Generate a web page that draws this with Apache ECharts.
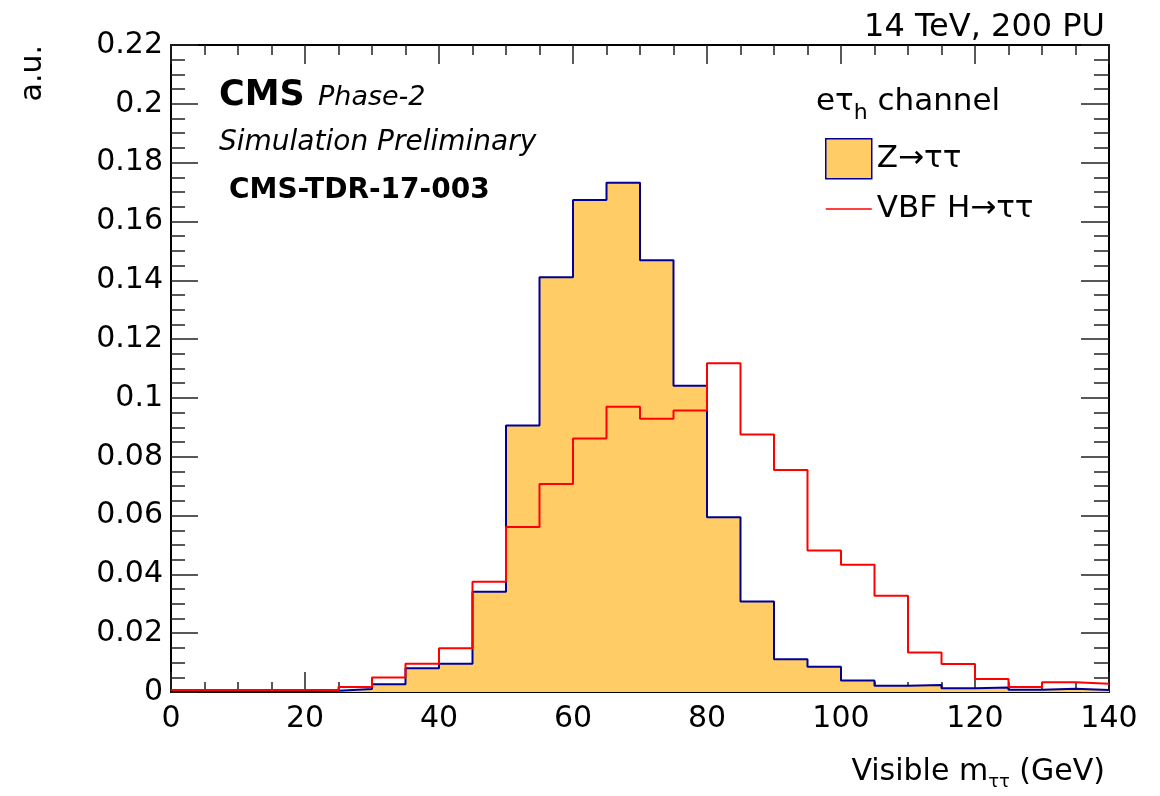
<!DOCTYPE html>
<html>
<head>
<meta charset="utf-8">
<style>
  html, body { margin: 0; padding: 0; background: #fff; }
  #chart { width: 1160px; height: 796px; }
</style>
<script src="https://cdn.jsdelivr.net/npm/echarts@6/dist/echarts.min.js"></script>
</head>
<body>
<div id="chart"></div>
<script>
// Visible di-tau mass, e-tau_h channel; 5 GeV bins from 0 to 140 GeV
const binLowEdges = [0, 5, 10, 15, 20, 25, 30, 35, 40, 45, 50, 55, 60, 65,
                     70, 75, 80, 85, 90, 95, 100, 105, 110, 115, 120, 125, 130, 135];
const binUpperEnd = 140;

// Z -> tau tau (normalised)
const zTauTau = [0.0003, 0.0003, 0.0003, 0.0003, 0.0004, 0.0010, 0.0026, 0.0081,
                 0.0096, 0.0341, 0.0906, 0.1410, 0.1673, 0.1732, 0.1468, 0.1041,
                 0.0594, 0.0308, 0.0111, 0.0086, 0.0039, 0.0021, 0.0024, 0.0013,
                 0.0015, 0.0008, 0.0011, 0.0007];

// VBF H -> tau tau (normalised)
const vbfHTauTau = [0.0007, 0.0007, 0.0007, 0.0007, 0.0007, 0.0017, 0.0049, 0.0096,
                    0.0149, 0.0375, 0.0561, 0.0707, 0.0862, 0.0970, 0.0929, 0.0957,
                    0.1118, 0.0876, 0.0755, 0.0481, 0.0433, 0.0327, 0.0134, 0.0095,
                    0.0044, 0.0017, 0.0033, 0.0028];

const xTickStep = 20;
const yTickStep = 0.02;
const yMax = 0.22;

// Turn bin contents into step points: one point per low edge plus the closing edge
function histPoints(values) {
  const pts = binLowEdges.map((x, i) => [x, values[i]]);
  pts.push([binUpperEnd, values[values.length - 1]]);
  return pts;
}

const FONT = 'DejaVu Sans';
const chart = echarts.init(document.getElementById('chart'), null, { renderer: 'canvas' });

const frameLine = { show: true, onZero: false, lineStyle: { color: '#000', width: 2 } };

chart.setOption({
  animation: false,
  backgroundColor: '#fff',
  grid: { left: 171, right: 51, top: 45, bottom: 104, containLabel: false },
  xAxis: [
    {
      type: 'value', min: 0, max: binUpperEnd, interval: xTickStep,
      axisLine: frameLine,
      axisTick: { show: true, inside: true, length: 20, lineStyle: { color: '#222', width: 1.5 } },
      minorTick: { show: true, splitNumber: 4, length: 10, lineStyle: { color: '#222', width: 1.5 } },
      splitLine: { show: false },
      axisLabel: { margin: 12, fontFamily: FONT, fontSize: 30, color: '#000' }
    },
    {
      type: 'value', position: 'top', min: 0, max: binUpperEnd, interval: xTickStep,
      axisLine: frameLine,
      axisTick: { show: true, inside: true, length: 19, lineStyle: { color: '#222', width: 1.5 } },
      minorTick: { show: true, splitNumber: 4, length: 10, lineStyle: { color: '#222', width: 1.5 } },
      splitLine: { show: false },
      axisLabel: { show: false }
    }
  ],
  yAxis: [
    {
      type: 'value', min: 0, max: yMax, interval: yTickStep,
      axisLine: frameLine,
      axisTick: { show: true, inside: true, length: 27, lineStyle: { color: '#222', width: 1.5 } },
      minorTick: { show: true, splitNumber: 4, length: 14, lineStyle: { color: '#222', width: 1.5 } },
      splitLine: { show: false },
      axisLabel: {
        margin: 8, fontFamily: FONT, fontSize: 30, color: '#000',
        formatter: v => String(+v.toFixed(2))
      }
    },
    {
      type: 'value', position: 'right', min: 0, max: yMax, interval: yTickStep,
      axisLine: frameLine,
      axisTick: { show: true, inside: true, length: 28, lineStyle: { color: '#222', width: 1.5 } },
      minorTick: { show: true, splitNumber: 4, length: 15, lineStyle: { color: '#222', width: 1.5 } },
      splitLine: { show: false },
      axisLabel: { show: false }
    }
  ],
  legend: {
    orient: 'vertical',
    left: 820, top: 133,
    itemWidth: 46, itemHeight: 40, itemGap: 14,
    textStyle: { fontFamily: FONT, fontSize: 31, color: '#000' },
    data: [
      { name: 'Z\u2192\u03c4\u03c4', icon: 'rect',
        itemStyle: { color: '#ffcc66', borderColor: '#000099', borderWidth: 1.5 } },
      { name: 'VBF H\u2192\u03c4\u03c4', icon: 'path://M0,0H46V1.5H0Z',
        itemStyle: { color: '#ff0000', borderWidth: 0 } }
    ]
  },
  series: [
    {
      name: 'Z\u2192\u03c4\u03c4',
      type: 'line', step: 'end', xAxisIndex: 0, yAxisIndex: 0,
      data: histPoints(zTauTau),
      showSymbol: false, symbol: 'none',
      itemStyle: { color: '#ffcc66' },
      lineStyle: { color: '#000099', width: 2 },
      areaStyle: { color: '#ffcc66', opacity: 1 },
      z: 2
    },
    {
      name: 'VBF H\u2192\u03c4\u03c4',
      type: 'line', step: 'end', xAxisIndex: 0, yAxisIndex: 0,
      data: histPoints(vbfHTauTau),
      showSymbol: false, symbol: 'none',
      itemStyle: { color: '#ff0000' },
      lineStyle: { color: '#ff0000', width: 2 },
      z: 3
    }
  ],
  graphic: [
    { type: 'text', right: 55, top: 12,
      style: { text: '14 TeV, 200 PU', font: '32px "DejaVu Sans"', fill: '#000' } },
    { type: 'text', x: 33, y: 45, rotation: Math.PI / 2,
      style: { text: 'a.u.', font: '30px "DejaVu Sans"', fill: '#000', align: 'right', verticalAlign: 'middle' } },
    { type: 'text', x: 219, y: 113,
      style: { text: 'CMS', font: 'bold 35px "DejaVu Sans"', fill: '#000', verticalAlign: 'bottom' } },
    { type: 'text', x: 318, y: 111,
      style: { text: 'Phase-2', font: 'italic 27px "DejaVu Sans"', fill: '#000', verticalAlign: 'bottom' } },
    { type: 'text', x: 219, y: 157,
      style: { text: 'Simulation Preliminary', font: 'italic 28px "DejaVu Sans"', fill: '#000', verticalAlign: 'bottom' } },
    { type: 'text', x: 229, y: 205,
      style: { text: 'CMS-TDR-17-003', font: 'bold 28px "DejaVu Sans"', fill: '#000', verticalAlign: 'bottom' } },
    { type: 'text', x: 816, y: 80,
      style: {
        text: '{m|e\u03c4}{s|h}{m| channel}',
        rich: {
          m: { fontFamily: FONT, fontSize: 31, fill: '#000', lineHeight: 40, verticalAlign: 'middle' },
          s: { fontFamily: FONT, fontSize: 22, fill: '#000', lineHeight: 44, verticalAlign: 'bottom' }
        }
      } },
    { type: 'text', right: 55, top: 757,
      style: {
        text: '{m|Visible m}{s|\u03c4\u03c4}{m| (GeV)}',
        rich: {
          m: { fontFamily: FONT, fontSize: 30, fill: '#000', lineHeight: 38, verticalAlign: 'middle' },
          s: { fontFamily: FONT, fontSize: 18, fill: '#000', lineHeight: 38, verticalAlign: 'bottom' }
        }
      } }
  ]
});
</script>
</body>
</html>
